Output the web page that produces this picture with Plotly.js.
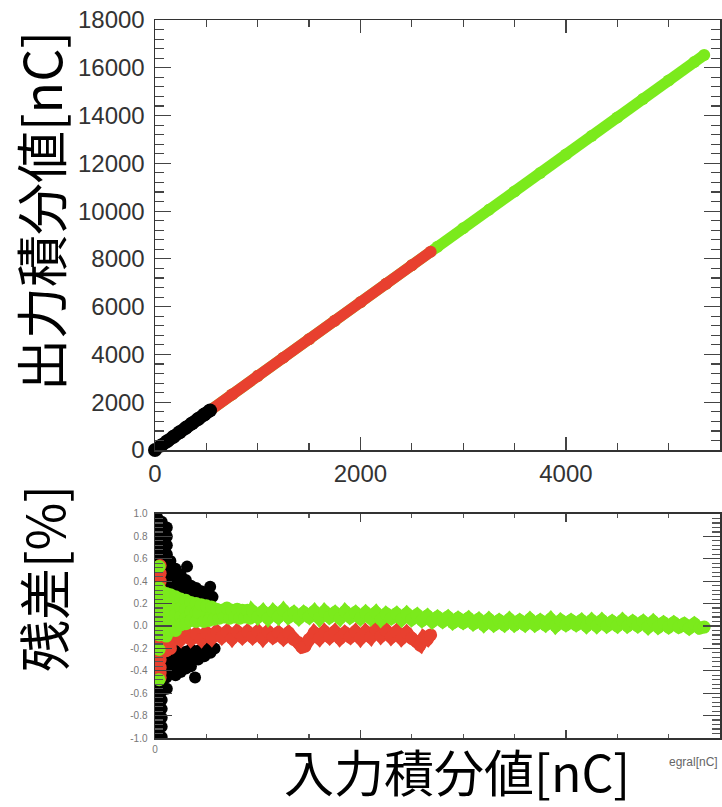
<!DOCTYPE html>
<html>
<head>
<meta charset="utf-8">
<script src="https://cdn.plot.ly/plotly-3.0.1.min.js"></script>
<style>
  html, body { margin: 0; padding: 0; background: #fff; }
  #chart { width: 722px; height: 807px; }
</style>
</head>
<body>
<div id="chart"></div>
<script>
// ---- Output integral vs input integral (upper panel) ----
const topGreenX = [0, 250, 500, 750, 1000, 1250, 1500, 1750, 2000, 2250, 2500, 2750, 3000, 3250, 3500, 3750, 4000, 4250, 4500, 4750, 5000, 5250, 5346];
const topGreenY = [0, 773, 1546, 2320, 3094, 3867, 4641, 5414, 6187, 6961, 7734, 8506, 9279, 10052, 10825, 11598, 12371, 13145, 13918, 14692, 15466, 16239, 16535];
const topRedX = [0, 250, 500, 750, 1000, 1250, 1500, 1750, 2000, 2250, 2500, 2683];
const topRedY = [0, 773, 1546, 2320, 3094, 3867, 4641, 5414, 6187, 6961, 7734, 8297];
const topBlackX = [0, 60, 120, 180, 240, 300, 360, 420, 480, 536];
const topBlackY = [0, 186, 371, 557, 742, 928, 1113, 1299, 1485, 1658];

// ---- Residuals in percent (lower panel) ----
// Low-charge region: wide spread of points
const resBlackX = [
  20,20,20,20,20,20,20,20,20,20,20,20,20,20,20,20,20,20,20,20,20,20,20,20,20,
  65,65,65,65,65,65,65,65,65,65,65,65,65,65,65,65,65,65,65,65,65,65,65,65,65,
  115,115,115,115,115,
  110,110,110,110, 150,150,150,150, 200,200,200,200, 250,250,250, 300,300,300, 312,
  350,350, 400,400, 450,450, 500, 537, 560,
  110,110,110,110, 150,150,150, 200,200,200,200, 250,250,250, 300,300,300,
  350,350,350, 390, 420,420, 480,480, 540,540, 580
];
const resBlackY = [
  0.97,0.89,0.82,0.74,0.66,0.58,0.50,0.42,0.34,0.26,0.18,0.10,0.02,-0.06,-0.14,-0.22,-0.30,-0.38,-0.46,-0.54,-0.62,-0.70,-0.78,-0.86,-0.95,
  0.93,0.85,0.78,0.70,0.62,0.54,0.46,0.38,0.30,0.22,0.14,0.06,-0.02,-0.10,-0.18,-0.26,-0.34,-0.42,-0.50,-0.58,-0.66,-0.74,-0.82,-0.90,-0.99,
  0.88,0.80,0.72,0.64,-0.56,
  0.60,0.50,0.42,0.34, 0.58,0.49,0.41,0.33, 0.51,0.43,0.35,0.28, 0.46,0.38,0.30, 0.41,0.33,0.26, 0.53,
  0.36,0.28, 0.34,0.27, 0.31,0.25, 0.27, 0.35, 0.26,
  -0.22,-0.30,-0.38,-0.46, -0.24,-0.32,-0.40, -0.22,-0.30,-0.38,-0.44, -0.25,-0.33,-0.41, -0.23,-0.30,-0.38,
  -0.21,-0.28,-0.36, -0.46, -0.22,-0.30, -0.20,-0.27, -0.18,-0.24, -0.20
];

const resRedSpreadX = [
  50,50,50,50,50,50,50,50,50,50,50,50,50,50,50,50,
  110,110,110, 150,150,150, 190,190
];
const resRedSpreadY = [
  0.54,0.47,0.40,0.33,0.26,0.19,0.12,0.05,-0.02,-0.09,-0.16,-0.23,-0.30,-0.37,-0.42,-0.46,
  -0.05,-0.13,-0.22, -0.06,-0.14,-0.20, -0.05,-0.12
];
// Red band (input up to ~2700 nC)
const resRedBandX = [
  200,250,300,350,400,450,500,550,600,650,700,750,800,850,900,950,
  1000,1050,1100,1150,1200,1250,1300,1350,1400,1430,1460,1500,1550,1600,1650,1700,1750,1800,1850,1900,1950,
  2000,2050,2100,2150,2200,2250,2300,2350,2400,2450,2500,2550,2580,2620,2650,2683
];
const resRedBandY = [
  -0.07,-0.12,-0.06,-0.12,-0.07,-0.12,-0.06,-0.11,-0.05,-0.10,-0.05,-0.11,-0.05,-0.10,-0.05,-0.10,
  -0.05,-0.11,-0.05,-0.10,-0.06,-0.11,-0.06,-0.12,-0.15,-0.19,-0.18,-0.12,-0.06,-0.11,-0.05,-0.10,-0.05,-0.11,-0.06,-0.10,-0.05,
  -0.11,-0.05,-0.10,-0.03,-0.09,-0.04,-0.10,-0.05,-0.11,-0.06,-0.11,-0.14,-0.17,-0.10,-0.12,-0.08
];

const resGreenSpreadX = [
  40,40,40,40,40,40,40, 40,40,40,
  110,110,110,110,110,110, 150,150,150,150,150, 200,200,200,200,200,
  250,250,250,250, 300,300,300,300, 350,350,350, 400,400,400
];
const resGreenSpreadY = [
  0.34,0.27,0.20,0.13,0.06,-0.01,-0.08, 0.53,-0.21,-0.48,
  0.29,0.21,0.13,0.05,-0.03,-0.09, 0.28,0.20,0.12,0.04,-0.04, 0.26,0.18,0.10,0.02,-0.04,
  0.24,0.16,0.08,0.01, 0.23,0.15,0.07,0.02, 0.21,0.13,0.05, 0.20,0.12,0.04
];
// Green band (full input range)
const resGreenBandX = [
  425,450,475,500,525,550,575,600,625,650,675,700,725,750,775,800,825,850,875,900,925,
  950,1000,1050,1100,1150,1200,1250,1300,1350,1400,1450,1500,1550,1600,1650,1700,1750,1800,1850,1900,1950,
  2000,2050,2100,2150,2200,2250,2300,2350,2400,2450,2500,2550,2600,2650,2700,2750,2800,2850,2900,2950,
  3000,3050,3100,3150,3200,3250,3300,3350,3400,3450,3500,3550,3600,3650,3700,3750,3800,3850,3900,3950,
  4000,4050,4100,4150,4200,4250,4300,4350,4400,4450,4500,4550,4600,4650,4700,4750,4800,4850,4900,4950,
  5000,5050,5100,5150,5200,5250,5300,5346
];
const resGreenBandY = [
  0.12,0.19,0.04,0.18,0.05,0.17,0.06,0.15,0.07,0.14,0.08,0.16,0.07,0.14,0.08,0.15,0.07,0.14,0.08,0.14,0.07,
  0.13,0.08,0.13,0.07,0.13,0.08,0.14,0.08,0.12,0.07,0.12,0.08,0.13,0.07,0.13,0.08,0.12,0.07,0.13,0.08,0.12,
  0.07,0.12,0.07,0.12,0.06,0.11,0.07,0.11,0.06,0.11,0.06,0.10,0.05,0.09,0.04,0.08,0.04,0.08,0.03,0.07,
  0.03,0.07,0.02,0.06,0.01,0.06,0.01,0.05,0.01,0.06,0.01,0.05,0.01,0.06,0.01,0.05,0.01,0.06,0.00,0.05,
  0.01,0.05,0.01,0.05,0.00,0.05,0.00,0.05,0.00,0.04,0.00,0.05,0.00,0.04,0.00,0.04,-0.01,0.04,-0.01,0.03,
  -0.01,0.03,-0.01,0.02,-0.02,0.02,-0.02,-0.01
];

// ---- Axis ticks ----
const inputTicks = [0, 2000, 4000];
const inputTickText = ['0', '2000', '4000'];
const residualInputTickText = ['0', '', ''];
const outputTicks = [0, 2000, 4000, 6000, 8000, 10000, 12000, 14000, 16000, 18000];
const outputTickText = ['0', '2000', '4000', '6000', '8000', '10000', '12000', '14000', '16000', '18000'];
const residualTicks = [-1.0, -0.8, -0.6, -0.4, -0.2, 0.0, 0.2, 0.4, 0.6, 0.8, 1.0];
const residualTickText = ['-1.0', '-0.8', '-0.6', '-0.4', '-0.2', '0.0', '0.2', '0.4', '0.6', '0.8', '1.0'];

const GREEN = '#7BEA1C';
const RED = '#E8402F';
const BLACK = '#000000';

function topTrace(x, y, color, w) {
  return {
    x: x, y: y, xaxis: 'x', yaxis: 'y', type: 'scatter', mode: 'lines+markers',
    line: { color: color, width: w }, marker: { color: color, size: w + 1 },
    cliponaxis: false, hoverinfo: 'skip'
  };
}
function resSpread(x, y, color, s) {
  return {
    x: x, y: y, xaxis: 'x2', yaxis: 'y2', type: 'scatter', mode: 'markers',
    marker: { color: color, size: s, line: { width: 0 } }, hoverinfo: 'skip'
  };
}
function resBand(x, y, color) {
  return {
    x: x, y: y, xaxis: 'x2', yaxis: 'y2', type: 'scatter', mode: 'lines+markers',
    line: { color: color, width: 12 }, marker: { color: color, size: 13, line: { width: 0 } },
    hoverinfo: 'skip'
  };
}

const data = [
  topTrace(topGreenX, topGreenY, GREEN, 11),
  topTrace(topRedX, topRedY, RED, 11),
  topTrace(topBlackX, topBlackY, BLACK, 13),
  resSpread(resBlackX, resBlackY, BLACK, 12),
  resSpread(resRedSpreadX, resRedSpreadY, RED, 13),
  resBand(resRedBandX, resRedBandY, RED),
  resSpread(resGreenSpreadX, resGreenSpreadY, GREEN, 13),
  resBand(resGreenBandX, resGreenBandY, GREEN)
];

const frame = {
  showline: true, linecolor: '#333', linewidth: 1.5, mirror: 'ticks',
  showgrid: false, zeroline: false, ticks: 'inside', tickcolor: '#444', tickwidth: 1.2
};

const layout = {
  width: 722, height: 807,
  margin: { l: 155, r: 2, t: 20, b: 69 },
  paper_bgcolor: '#fff', plot_bgcolor: '#fff',
  showlegend: false,
  font: { family: 'Liberation Sans, Arial, sans-serif', color: '#333' },
  xaxis: Object.assign({}, frame, {
    domain: [0, 1], anchor: 'y', range: [0, 5500],
    tickvals: inputTicks, ticktext: inputTickText, ticklen: 13,
    minor: { dtick: 500, tick0: 0, ticks: 'inside', ticklen: 7, tickcolor: '#444' },
    tickfont: { size: 24, color: '#333' }, ticklabelstandoff: 2
  }),
  yaxis: Object.assign({}, frame, {
    domain: [0.4011, 1], anchor: 'x', range: [0, 18000],
    tickvals: outputTicks, ticktext: outputTickText, ticklen: 16,
    minor: { dtick: 400, tick0: 0, ticks: 'inside', ticklen: 9, tickcolor: '#444' },
    tickfont: { size: 24, color: '#333' }, ticklabelstandoff: 4
  }),
  xaxis2: Object.assign({}, frame, {
    domain: [0, 1], anchor: 'y2', range: [0, 5500],
    tickvals: inputTicks, ticktext: residualInputTickText, ticklen: 8,
    minor: { dtick: 500, tick0: 0, ticks: 'inside', ticklen: 4, tickcolor: '#555' },
    tickfont: { size: 10, color: '#777' }, ticklabelstandoff: 1
  }),
  yaxis2: Object.assign({}, frame, {
    domain: [0, 0.312], anchor: 'x2', range: [-1, 1],
    tickvals: residualTicks, ticktext: residualTickText, ticklen: 17,
    minor: { dtick: 0.04, tick0: 0, ticks: 'inside', ticklen: 8, tickcolor: '#555' },
    tickfont: { size: 10, color: '#777' }, ticklabelstandoff: 4
  }),
  annotations: [
    { text: '出力積分値[nC]', xref: 'paper', yref: 'paper', x: -0.2035, y: 0.734,
      xanchor: 'center', yanchor: 'middle', textangle: -90, showarrow: false,
      font: { family: 'Noto Sans CJK JP, sans-serif', size: 52, color: '#000' } },
    { text: '残差[%]', xref: 'paper', yref: 'paper', x: -0.2, y: 0.2214,
      xanchor: 'center', yanchor: 'middle', textangle: -90, showarrow: false,
      font: { family: 'Noto Sans CJK JP, sans-serif', size: 52, color: '#000' } },
    { text: 'egral[nC]', xref: 'paper', yref: 'paper', x: 1.0, y: -0.0334,
      xanchor: 'right', yanchor: 'middle', showarrow: false,
      font: { family: 'Liberation Sans, Arial, sans-serif', size: 12, color: '#666' } },
    { text: '入力積分値[nC]', xref: 'paper', yref: 'paper', x: 0.5345, y: -0.0445,
      xanchor: 'center', yanchor: 'middle', showarrow: false,
      font: { family: 'Noto Sans CJK JP, sans-serif', size: 50, color: '#000' } }
  ]
};

Plotly.newPlot('chart', data, layout, { displayModeBar: false, staticPlot: true });
</script>
</body>
</html>
